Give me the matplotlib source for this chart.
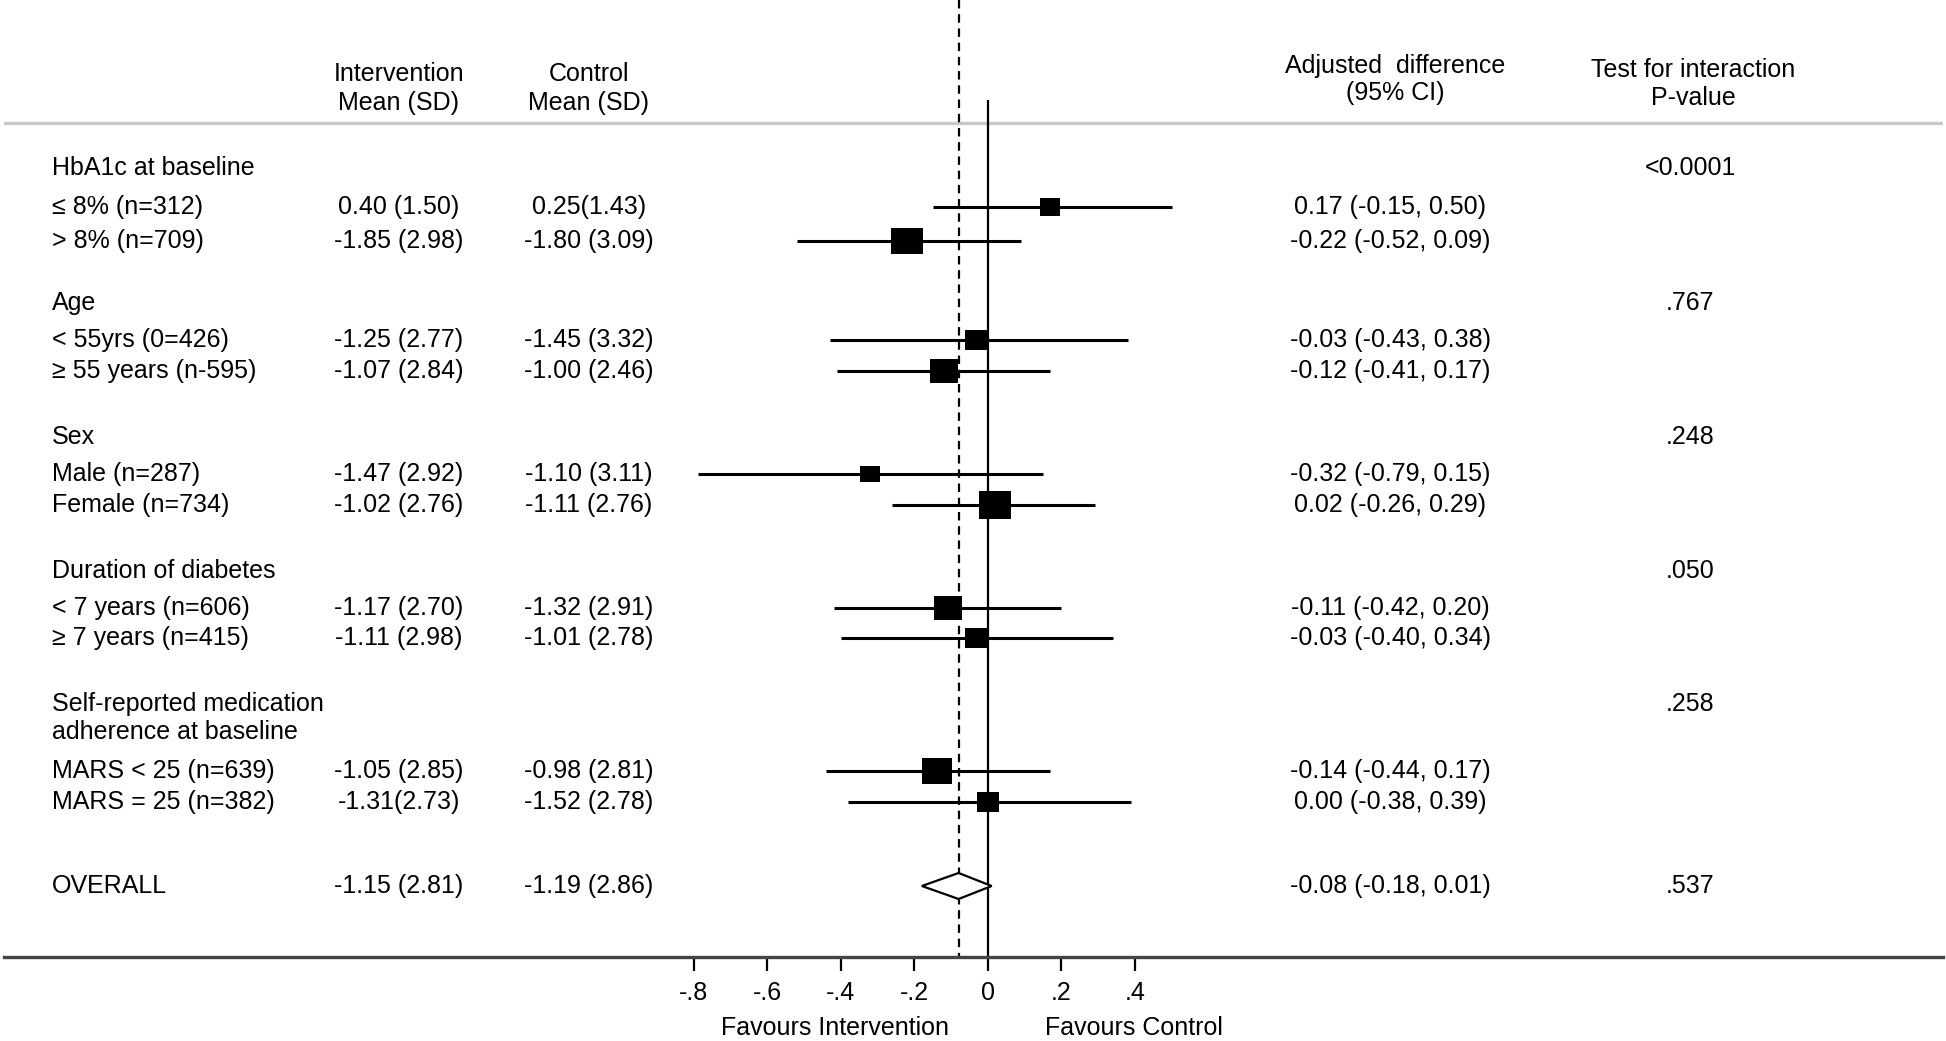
#   Forest plot: subgroup analysis of HbA1c change
import numpy as np
import matplotlib.pyplot as plt

plt.rcParams['font.family'] = ['Liberation Sans', 'DejaVu Sans']

# ---- data ----
group_titles = ["HbA1c at baseline", "Age", "Sex", "Duration of diabetes",
                "Self-reported medication\nadherence at baseline"]
p_values = ["<0.0001", ".767", ".248", ".050", ".258"]

sub_labels = ["≤ 8% (n=312)", "> 8% (n=709)",
              "< 55yrs (0=426)", "≥ 55 years (n-595)",
              "Male (n=287)", "Female (n=734)",
              "< 7 years (n=606)", "≥ 7 years (n=415)",
              "MARS < 25 (n=639)", "MARS = 25 (n=382)"]
n_sub = [312, 709, 426, 595, 287, 734, 606, 415, 639, 382]
intervention = ["0.40 (1.50)", "-1.85 (2.98)", "-1.25 (2.77)", "-1.07 (2.84)",
                "-1.47 (2.92)", "-1.02 (2.76)", "-1.17 (2.70)", "-1.11 (2.98)",
                "-1.05 (2.85)", "-1.31(2.73)"]
control = ["0.25(1.43)", "-1.80 (3.09)", "-1.45 (3.32)", "-1.00 (2.46)",
           "-1.10 (3.11)", "-1.11 (2.76)", "-1.32 (2.91)", "-1.01 (2.78)",
           "-0.98 (2.81)", "-1.52 (2.78)"]
diff = [0.17, -0.22, -0.03, -0.12, -0.32, 0.02, -0.11, -0.03, -0.14, 0.00]
ci_lo = [-0.15, -0.52, -0.43, -0.41, -0.79, -0.26, -0.42, -0.40, -0.44, -0.38]
ci_hi = [0.50, 0.09, 0.38, 0.17, 0.15, 0.29, 0.20, 0.34, 0.17, 0.39]

overall_label = "OVERALL"
overall_int = "-1.15 (2.81)"
overall_ctl = "-1.19 (2.86)"
overall_diff, overall_lo, overall_hi = -0.08, -0.18, 0.01
overall_p = ".537"

xticks = [-0.8, -0.6, -0.4, -0.2, 0, 0.2, 0.4]

# ---- layout (pixels from top of the figure) ----
W, H = 1946, 1041
group_y = [168, 303, 437, 571, 718]
sub_y = [207, 241, 340, 371, 474, 505, 608, 638, 771, 802]
overall_y = 886
X_LABEL, X_INT, X_CTL, X_CI, X_P = 52, 399, 589, 1390, 1690
FS = 18

fig = plt.figure(figsize=(W / 100, H / 100), dpi=100)
AX_L, AX_R, AX_BOT = 4, 1943, 957
ZERO_PX, PX_PER_UNIT = 988, 367.5
ax = fig.add_axes([AX_L / W, (H - AX_BOT) / H, (AX_R - AX_L) / W, AX_BOT / H])
ax.set_xlim((AX_L - ZERO_PX) / PX_PER_UNIT, (AX_R - ZERO_PX) / PX_PER_UNIT)
ax.set_ylim(AX_BOT, 0)
for s in ['top', 'left', 'right']:
    ax.spines[s].set_visible(False)
ax.spines['bottom'].set_color('#444444')
ax.spines['bottom'].set_linewidth(2.4)
ax.set_yticks([])
ax.set_xticks(xticks)
ax.set_xticklabels(['0' if t == 0 else ('%.1f' % t).replace('0.', '.') for t in xticks])
ax.tick_params(axis='x', length=10, width=1.6, pad=7, labelsize=FS, color='black')


def fy(y):
    return 1 - y / H


def put(x, y, s, ha='center'):
    fig.text(x / W, fy(y), s, ha=ha, va='center', fontsize=FS, color='black')


# header
put(X_INT, 74, "Intervention")
put(X_INT, 103, "Mean (SD)")
put(X_CTL, 74, "Control")
put(X_CTL, 103, "Mean (SD)")
put(X_CI + 5, 66, "Adjusted  difference")
put(X_CI + 5, 93, "(95% CI)")
put(X_P + 3, 70, "Test for interaction")
put(X_P + 3, 98, "P-value")
ax.axhline(123, color='#c8c8c8', lw=2.4)

# reference lines
ax.vlines(0, 100, AX_BOT, color='black', lw=1.6)
ax.plot([overall_diff, overall_diff], [0, AX_BOT], color='black', lw=1.6,
        linestyle=(0, (3.8, 2.6)))

# group titles and p-values
for title, p, y in zip(group_titles, p_values, group_y):
    if '\n' in title:
        for k, line in enumerate(title.split('\n')):
            put(X_LABEL, y - 14 + 28 * k, line, ha='left')
        put(X_P, y - 14, p)
    else:
        put(X_LABEL, y, title, ha='left')
        put(X_P, y, p)

# subgroup rows
box = [(-1.165, -1), (1.165, -1), (1.165, 1), (-1.165, 1), (-1.165, -1)]
for i in range(len(sub_labels)):
    y = sub_y[i]
    put(X_LABEL, y, sub_labels[i], ha='left')
    put(X_INT, y, intervention[i])
    put(X_CTL, y, control[i])
    put(X_CI, y, "%.2f (%.2f, %.2f)" % (diff[i], ci_lo[i], ci_hi[i]))
    ax.hlines(y, ci_lo[i], ci_hi[i], color='black', lw=2.2)
    ax.plot(diff[i], y, marker=box, ms=0.84 * np.sqrt(n_sub[i]), color='black',
            markeredgewidth=0, linestyle='none')

# overall
put(X_LABEL, overall_y, overall_label, ha='left')
put(X_INT, overall_y, overall_int)
put(X_CTL, overall_y, overall_ctl)
put(X_CI, overall_y, "%.2f (%.2f, %.2f)" % (overall_diff, overall_lo, overall_hi))
put(X_P, overall_y, overall_p)
ax.fill([overall_lo, overall_diff, overall_hi, overall_diff],
        [overall_y, overall_y - 13, overall_y, overall_y + 13],
        facecolor='white', edgecolor='black', lw=1.6, zorder=3)

# axis captions
put(835, 1028, "Favours Intervention")
put(1134, 1028, "Favours Control")

fig.savefig('out.png', dpi=100)
